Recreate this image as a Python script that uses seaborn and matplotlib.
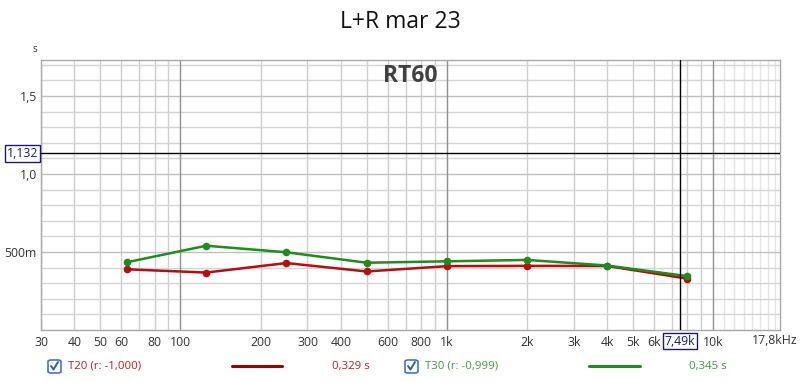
import matplotlib
matplotlib.use("Agg")
import matplotlib.pyplot as plt
from matplotlib.lines import Line2D
from matplotlib.patches import FancyBboxPatch
import seaborn as sns
import pandas as pd

# ---- data ----
freqs = [63, 125, 250, 500, 1000, 2000, 4000, 8000]
t20 = [0.389, 0.368, 0.429, 0.375, 0.409, 0.411, 0.410, 0.329]
t30 = [0.434, 0.540, 0.498, 0.431, 0.440, 0.449, 0.413, 0.345]
x_major = [100, 1000, 10000]
x_major_labels = ["100", "1k", "10k"]
x_minor = [30, 40, 50, 60, 70, 80, 90, 200, 300, 400, 500, 600, 700, 800, 900,
           2000, 3000, 4000, 5000, 6000, 7000, 8000, 9000]
x_minor_labels = ["30", "40", "50", "60", "", "80", "", "200", "300", "400", "", "600", "", "800", "",
                  "2k", "3k", "4k", "5k", "6k", "", "", ""]
x_high = [11000, 12000, 13000, 14000, 15000, 16000, 17000]
y_major = [0.5, 1.0, 1.5]
y_major_labels = ["500m", "1,0", "1,5"]
y_minor = [0.1, 0.2, 0.3, 0.4, 0.6, 0.7, 0.8, 0.9, 1.1, 1.2, 1.3, 1.4, 1.6, 1.7]
cursor_y = 1.132
cursor_x = 7490

sns.set_style("white")
plt.rcParams['font.family'] = ['Open Sans', 'DejaVu Sans']

W, H = 800, 382
fig = plt.figure(figsize=(W / 100, H / 100), dpi=100)
ax = fig.add_axes([41 / W, 52 / H, 739 / W, 270 / H])

ax.set_xscale("log")
ax.set_xlim(30, 17800)
ax.set_ylim(0, 1.73)

# grid lines
for v in x_minor:
    ax.axvline(v, color="#cfcfcf", lw=1.0, zorder=0)
for v in x_high:
    ax.axvline(v, color="#e4e4e4", lw=1.0, zorder=0)
for v in y_minor:
    ax.axhline(v, color="#d4d4d4", lw=1.0, zorder=0)
for v in y_major:
    ax.axhline(v, color="#c0c0c0", lw=1.0, zorder=0)
for v in x_major:
    ax.axvline(v, color="#8f8f8f", lw=1.0, zorder=1)

ax.set_xticks(x_major)
ax.set_xticklabels(x_major_labels)
ax.set_xticks(x_minor, minor=True)
ax.set_xticklabels(x_minor_labels, minor=True)
ax.set_yticks(y_major)
ax.set_yticklabels(y_major_labels)
ax.set_yticks([], minor=True)
ax.tick_params(axis="both", which="both", length=0, labelsize=8.8, colors="#333333")
ax.tick_params(axis="x", which="both", pad=4)
ax.tick_params(axis="y", pad=3)
for s in ax.spines.values():
    s.set_color("#a8a8a8")
    s.set_linewidth(1.0)

red = "#b30f0f"
green = "#1e8c1e"
df = pd.DataFrame({"f": freqs, "T20": t20, "T30": t30})
sns.lineplot(data=df, x="f", y="T20", ax=ax, color=red, lw=1.8, marker="o",
             markersize=5.5, markeredgewidth=0, zorder=3)
sns.lineplot(data=df, x="f", y="T30", ax=ax, color=green, lw=1.8, marker="o",
             markersize=5.5, markeredgewidth=0, zorder=4)
ax.set_xlabel("")
ax.set_ylabel("")

# cursors
ax.axhline(cursor_y, color="black", lw=1.0, zorder=5)
ax.axvline(cursor_x, color="black", lw=1.0, zorder=5)
box = dict(boxstyle="square,pad=0.15", fc="white", ec="#1a1a6e", lw=1.0)
ax.text(-0.004, cursor_y, "1,132", transform=ax.get_yaxis_transform(), ha="right",
        va="center", fontsize=8.8, color="#1a1a6e", bbox=box, clip_on=False)
ax.text(cursor_x, -0.017, "7,49k", transform=ax.get_xaxis_transform(), ha="center",
        va="top", fontsize=8.8, color="#1a1a6e", bbox=box, clip_on=False)

# end label
fig.text(797 / W, 1 - 341 / H, "17,8kHz", ha="right", va="center", fontsize=8.8, color="#333333")
# units
fig.text(35 / W, 1 - 49 / H, "s", ha="center", va="center", fontsize=7, color="#333333")

# titles
fig.text(400 / W, 1 - 22 / H, "L+R mar 23", ha="center", va="center", fontsize=16.5, color="#111111")
ax.text(0.5, 1 - 16 / 270, "RT60", transform=ax.transAxes, ha="center", va="center",
        fontsize=16.5, fontweight="bold", color="#404040", zorder=6)

# legend row
def checkbox(x0):
    fig.patches.append(FancyBboxPatch((x0 / W, 1 - 373 / H), 13 / W, 13 / H,
                                      boxstyle="round,pad=0,rounding_size=0.004",
                                      transform=fig.transFigure, fc="white",
                                      ec="#3c78c8", lw=1.2))
    fig.lines.append(Line2D([(x0 + 3) / W, (x0 + 5.5) / W, (x0 + 10) / W],
                            [1 - 366 / H, 1 - 369.5 / H, 1 - 362 / H],
                            transform=fig.transFigure, color="#2a5fb0", lw=1.4))

ly = 1 - 366 / H
lfs = 8.2
checkbox(48)
fig.text(68 / W, ly, "T20 (r: -1,000)", ha="left", va="center", fontsize=lfs, color="#b22020")
fig.lines.append(Line2D([232 / W, 282 / W], [ly, ly], transform=fig.transFigure, color="#a00000", lw=2.2))
fig.text(332 / W, ly, "0,329 s", ha="left", va="center", fontsize=lfs, color="#b22020")
checkbox(405)
fig.text(425 / W, ly, "T30 (r: -0,999)", ha="left", va="center", fontsize=lfs, color="#3a9a3a")
fig.lines.append(Line2D([589 / W, 640 / W], [ly, ly], transform=fig.transFigure, color="#1e8c1e", lw=2.2))
fig.text(689 / W, ly, "0,345 s", ha="left", va="center", fontsize=lfs, color="#3a9a3a")

fig.savefig("out.png", dpi=100)
